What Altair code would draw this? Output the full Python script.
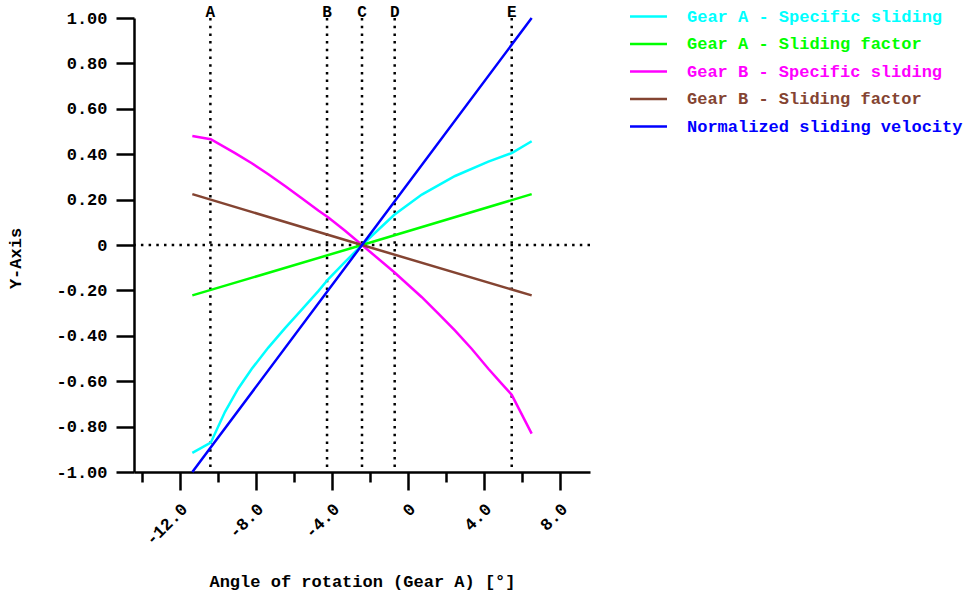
import altair as alt
import pandas as pd

FONT = "Liberation Mono"
FS = 17

# ---------------- data ----------------
series_names = [
    "Gear A - Specific sliding",
    "Gear A - Sliding factor",
    "Gear B - Specific sliding",
    "Gear B - Sliding factor",
    "Normalized sliding velocity",
]
series_colors = ["#00FFFF", "#00FF00", "#FF00FF", "#844432", "#0000FF"]

x_a_spec = [-11.37, -10.40, -9.65, -8.95, -8.24, -7.37, -6.49, -5.61, -4.74, -4.21,
            -3.33, -2.44, -0.74, 0.71, 2.46, 4.21, 5.44, 6.49]
y_a_spec = [-0.916, -0.871, -0.735, -0.632, -0.545, -0.452, -0.366, -0.285, -0.203, -0.150,
            -0.074, 0.0, 0.133, 0.222, 0.304, 0.367, 0.405, 0.457]

x_a_fact = [-11.37, -2.44, 6.49]
y_a_fact = [-0.222, 0.0, 0.224]

x_b_spec = [-11.37, -10.40, -9.12, -8.24, -7.37, -6.49, -5.61, -4.74, -4.21, -3.33,
            -2.44, -0.74, 0.71, 1.58, 2.46, 3.34, 4.21, 4.92, 5.44, 6.49]
y_b_spec = [0.480, 0.466, 0.405, 0.360, 0.312, 0.260, 0.206, 0.152, 0.121, 0.063,
            0.0, -0.120, -0.230, -0.302, -0.377, -0.458, -0.545, -0.612, -0.660, -0.831]

x_b_fact = [-11.37, -2.44, 6.49]
y_b_fact = [0.224, 0.0, -0.222]

x_velocity = [-11.37, -2.44, 6.49]
y_velocity = [-1.0, 0.0, 1.0]

marker_names = ["A", "B", "C", "D", "E"]
marker_x = [-10.42, -4.28, -2.44, -0.72, 5.44]

zero_line = [0.0]

x_major_ticks = [-12, -8, -4, 0, 4, 8]
x_major_labels = ["-12.0", "-8.0", "-4.0", "0", "4.0", "8.0"]
x_minor_ticks = [-14, -10, -6, -2, 2, 6]

y_major_ticks = [-1.0, -0.8, -0.6, -0.4, -0.2, 0.0, 0.2, 0.4, 0.6, 0.8, 1.0]
y_major_labels = ["-1.00", "-0.80", "-0.60", "-0.40", "-0.20", "0",
                  "0.20", "0.40", "0.60", "0.80", "1.00"]
y_minor_ticks = [-0.9, -0.7, -0.5, -0.3, -0.1, 0.1, 0.3, 0.5, 0.7, 0.9]

# ---------------- tables ----------------
xs = [x_a_spec, x_a_fact, x_b_spec, x_b_fact, x_velocity]
ys = [y_a_spec, y_a_fact, y_b_spec, y_b_fact, y_velocity]
rows = []
for k, name in enumerate(series_names):
    for i, (xv, yv) in enumerate(zip(xs[k], ys[k])):
        rows.append({"series": name, "x": xv, "y": yv, "s": k, "i": i})
df = pd.DataFrame(rows)
markers = pd.DataFrame({"name": marker_names, "x": marker_x})
zero_df = pd.DataFrame({"y": zero_line})


def label_expr(values, labels):
    expr = "''"
    for v, lab in reversed(list(zip(values, labels))):
        expr = f"(abs(datum.value - ({v})) < 1e-6 ? '{lab}' : {expr})"
    return expr


def major_test(values):
    return " || ".join(f"abs(datum.value - ({v})) < 1e-6" for v in values)


x_axis = alt.Axis(
    values=sorted(x_major_ticks + x_minor_ticks),
    labelExpr=label_expr(x_major_ticks, x_major_labels),
    labelOverlap=False,
    tickSize={"condition": {"test": major_test(x_major_ticks), "value": 18}, "value": 10},
    labelAngle=-45,
    labelAlign="right",
    labelBaseline="middle",
    labelPadding=16,
    labelOffset=4,
    title="Angle of rotation (Gear A) [°]",
    titleX=228,
    titleY=109,
    titleBaseline="middle",
    titleAlign="center",
    grid=False,
    orient="bottom",
)

y_axis = alt.Axis(
    values=sorted(y_major_ticks + y_minor_ticks),
    labelExpr=label_expr(y_major_ticks, y_major_labels),
    labelOverlap=False,
    tickSize={"condition": {"test": major_test(y_major_ticks), "value": 18}, "value": 6},
    labelPadding=9,
    title="Y-Axis",
    titleAngle=-90,
    titleX=-119,
    titleY=240,
    titleAlign="center",
    titleBaseline="middle",
    grid=False,
    orient="left",
)

color_expr = "'black'"
for n, c in reversed(list(zip(series_names, series_colors))):
    color_expr = f"(datum.label === '{n}' ? '{c}' : {color_expr})"

legend = alt.Legend(
    title=None,
    orient="none",
    legendX=504,
    legendY=-12,
    symbolType="M-2,0L2,0",
    symbolSize=342,
    symbolStrokeWidth=2.5,
    labelFont=FONT,
    labelFontSize=FS,
    labelFontWeight="bold",
    labelColor=alt.ExprRef(expr=color_expr),
    labelOffset=28,
    rowPadding=8.5,
    padding=0,
    labelLimit=400,
)

x_scale = alt.Scale(domain=[-14.44, 9.56], nice=False, zero=False)
y_scale = alt.Scale(domain=[-1.0, 1.0], nice=False, zero=False)

vrules = alt.Chart(markers).mark_rule(
    color="black", strokeWidth=2.5, strokeDash=[2.5, 5.2]
).encode(x=alt.X("x:Q", scale=x_scale, axis=x_axis))

hrule = alt.Chart(zero_df).mark_rule(
    color="black", strokeWidth=2.5, strokeDash=[2.5, 5.2]
).encode(y=alt.Y("y:Q", scale=y_scale, axis=y_axis))

mtext = alt.Chart(markers).mark_text(
    font=FONT, fontSize=16, fontWeight="bold", baseline="alphabetic", dy=-1, color="black"
).encode(x=alt.X("x:Q", scale=x_scale), y=alt.datum(1.0), text="name:N")

lines = alt.Chart(df).mark_line(strokeWidth=2.5).encode(
    x=alt.X("x:Q", scale=x_scale, axis=x_axis),
    y=alt.Y("y:Q", scale=y_scale, axis=y_axis),
    color=alt.Color("series:N", scale=alt.Scale(domain=series_names, range=series_colors),
                    legend=legend),
    order="i:Q",
)

chart = alt.layer(vrules, hrule, lines, mtext).properties(
    width=456,
    height=454,
    autosize=alt.AutoSizeParams(type="none"),
    padding={"left": 134, "top": 18, "right": 375, "bottom": 121},
).configure_axis(
    labelFont=FONT,
    labelFontSize=FS,
    labelFontWeight="bold",
    labelColor="black",
    titleFont=FONT,
    titleFontSize=FS,
    titleFontWeight="bold",
    titleColor="black",
    domainColor="black",
    domainWidth=2.5,
    tickColor="black",
    tickWidth=2.5,
).configure_view(stroke=None)

chart.save("out.html", embed_options={"renderer": "svg", "actions": False})
